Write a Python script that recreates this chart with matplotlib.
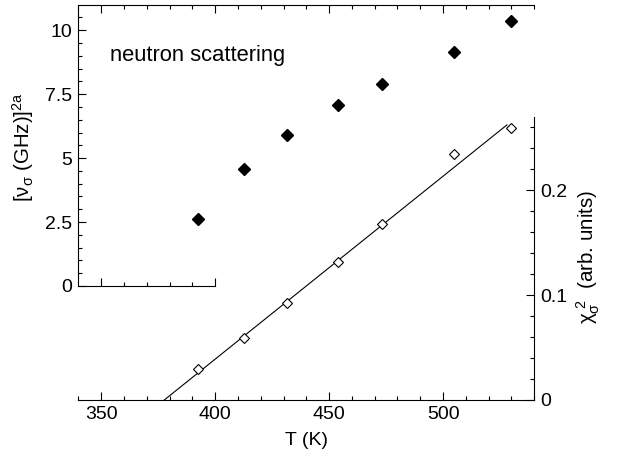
import numpy as np
import matplotlib.pyplot as plt
from matplotlib.ticker import MultipleLocator, FixedLocator

plt.rcParams['font.family'] = ['Liberation Sans', 'DejaVu Sans']
plt.rcParams['mathtext.default'] = 'regular'

# temperatures (K)
T = [392.6, 412.8, 431.7, 454.0, 473.0, 505.0, 530.0]
# neutron scattering: [nu_sigma (GHz)]^2a
nu2a = [2.62, 4.56, 5.90, 7.06, 7.89, 9.15, 10.36]
# chi_sigma^2 (arb. units)
chi2 = [0.0295, 0.0588, 0.0927, 0.1317, 0.1676, 0.234, 0.259]
# straight line fit
fit_T = [377.7, 528.0]
fit_chi = [0.0, 0.262]

FS = 14
LFS = 14.8
W, H = 622, 455
fig = plt.figure(figsize=(W / 100, H / 100), dpi=100)

# main axes: bottom T axis + right chi axis
x0, x1 = 78.3, 534.3
ax = fig.add_axes([x0 / W, (H - 400) / H, (x1 - x0) / W, (400 - 4.7) / H])
ax.plot(fit_T, fit_chi, 'k-', lw=0.8)
ax.plot(T, chi2, 'D', ms=5.3, mfc='white', mec='black', mew=0.8)
ax.set_xlim(340, 540)
ax.set_ylim(0, 0.3765)
ax.spines['left'].set_visible(False)
ax.spines['right'].set_bounds(0, 0.27)
ax.yaxis.tick_right()
ax.yaxis.set_label_position('right')
ax.set_yticks([0, 0.1, 0.2])
ax.set_yticklabels(['0', '0.1', '0.2'])
ax.yaxis.set_minor_locator(FixedLocator(np.arange(0, 0.27, 0.02)))
ax.xaxis.set_major_locator(MultipleLocator(50))
ax.xaxis.set_minor_locator(MultipleLocator(10))
ax.tick_params(which='both', direction='in', top=True, labelsize=FS,
               width=0.8, pad=4.3)
ax.tick_params(which='major', length=6)
ax.tick_params(which='minor', length=3)
ax.set_xlabel('T (K)', fontsize=FS)
ax.xaxis.set_label_coords(0.5, -0.08)
ax.set_ylabel(r'$\chi_\sigma^{\ 2}$  (arb. units)', fontsize=LFS, rotation=90)
ax.yaxis.set_label_coords(1.088, 0.362)
for s in ax.spines.values():
    s.set_linewidth(0.8)

# upper-left axes: neutron scattering
ax1 = fig.add_axes([x0 / W, (H - 286) / H, (x1 - x0) / W, (286 - 4.7) / H])
ax1.patch.set_visible(False)
ax1.plot(T, nu2a, 'D', ms=5.8, color='black')
ax1.set_xlim(340, 540)
ax1.set_ylim(0, 11)
ax1.spines['top'].set_visible(False)
ax1.spines['right'].set_visible(False)
ax1.spines['bottom'].set_bounds(340, 400)
ax1.set_xticks([350, 400])
ax1.set_xticks([360, 370, 380, 390], minor=True)
ax1.set_xticklabels([])
ax1.set_yticks([0, 2.5, 5, 7.5, 10])
ax1.set_yticklabels(['0', '2.5', '5', '7.5', '10'])
ax1.yaxis.set_minor_locator(FixedLocator(np.arange(0, 10.6, 0.5)))
ax1.tick_params(which='both', direction='in', labelsize=FS, width=0.8, pad=4.3)
ax1.tick_params(which='major', length=6)
ax1.tick_params(which='minor', length=3)
ax1.set_ylabel(r'[$\nu_\sigma$ (GHz)]$^{2a}$', fontsize=LFS)
ax1.yaxis.set_label_coords(-0.092, 0.495)
for s in ax1.spines.values():
    s.set_linewidth(0.8)
ax1.text(353.9, 9.02, 'neutron scattering', fontsize=15.8, ha='left', va='center')

fig.savefig('out.png', dpi=100)
